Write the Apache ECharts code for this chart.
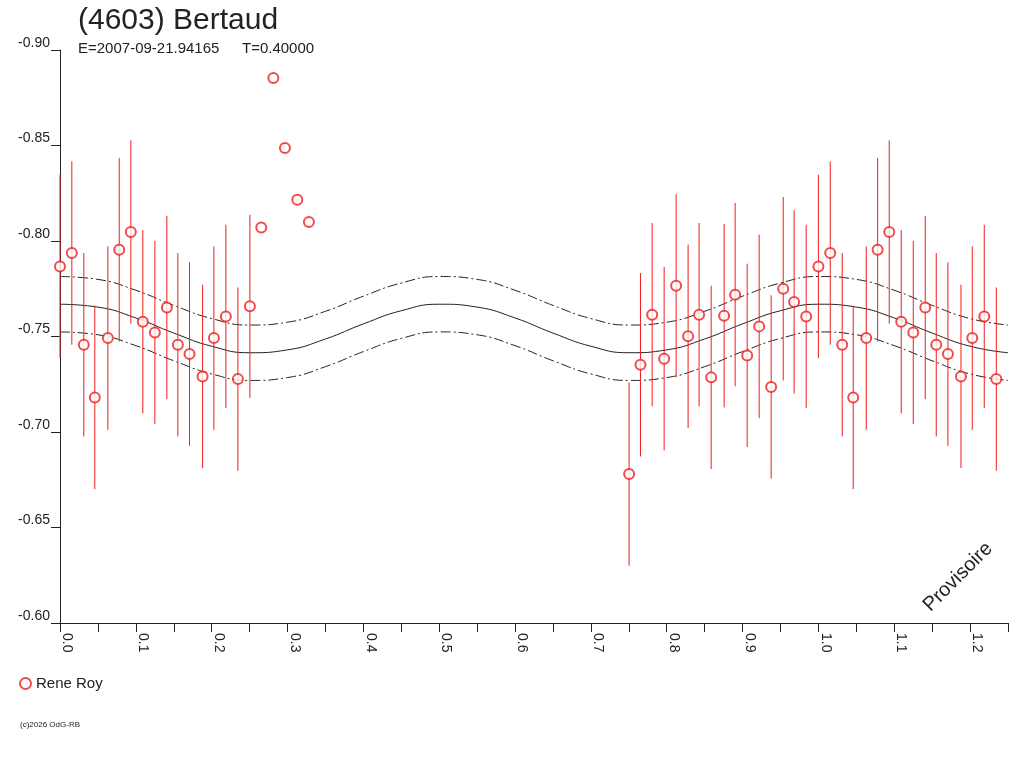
<!DOCTYPE html>
<html>
<head>
<meta charset="utf-8">
<script src="https://cdn.jsdelivr.net/npm/echarts@6/dist/echarts.min.js"></script>
<style>
html,body{margin:0;padding:0;background:#fff;}
#chart{width:1024px;height:768px;}
</style>
</head>
<body>
<div id="chart"></div>
<script>
// ---- data ----
const xTickLabels = ['0.0','0.1','0.2','0.3','0.4','0.5','0.6','0.7','0.8','0.9','1.0','1.1','1.2'];
const yTickLabels = ['-0.90','-0.85','-0.80','-0.75','-0.70','-0.65','-0.60'];

// measured points, phase 0 .. 0.33
const phaseA = [0.0000,0.0156,0.0314,0.0459,0.0631,0.0781,0.0934,0.1092,0.1251,0.1409,0.1554,0.1708,0.1880,0.2029,0.2187,0.2346,0.2504,0.2654,0.2813,0.2966,0.3129,0.3282];
const magA   = [-0.7867,-0.7937,-0.7457,-0.7181,-0.7492,-0.7954,-0.8047,-0.7577,-0.7521,-0.7652,-0.7457,-0.7408,-0.7291,-0.7492,-0.7605,-0.7277,-0.7658,-0.8071,-0.8853,-0.8487,-0.8216,-0.8099];
const errA   = [0.048,0.048,0.048,0.048,0.048,0.048,0.048,0.048,0.048,0.048,0.048,0.048,0.048,0.048,0.048,0.048,0.048,0,0,0,0,0];

// measured points, phase 0.75 .. 0.99
const phaseB = [0.7504,0.7654,0.7808,0.7966,0.8124,0.8282,0.8427,0.8586,0.8757,0.8902,0.9061,0.9219,0.9377,0.9536,0.9680,0.9839];
const magB   = [-0.6780,-0.7352,-0.7614,-0.7384,-0.7766,-0.7501,-0.7614,-0.7286,-0.7609,-0.7719,-0.7401,-0.7553,-0.7236,-0.7750,-0.7681,-0.7605];
const errB   = [0.048,0.048,0.048,0.048,0.048,0.048,0.048,0.048,0.048,0.048,0.048,0.048,0.048,0.048,0.048,0.048];

// fitted curve and its band, read every 0.05 in phase
const curvePhase = [0,0.05,0.10,0.15,0.20,0.25,0.30,0.35,0.40,0.45,0.50,0.55,0.60,0.65,0.70,0.75,0.80,0.85,0.90,0.95,1.00,1.05,1.10,1.15,1.20,1.25];
const curveMid   = [-0.7669,-0.7654,-0.7597,-0.7518,-0.7449,-0.7415,-0.7430,-0.7487,-0.7566,-0.7635,-0.7669,-0.7654,-0.7597,-0.7518,-0.7449,-0.7415,-0.7430,-0.7487,-0.7566,-0.7635,-0.7669,-0.7654,-0.7597,-0.7518,-0.7449,-0.7415];
const curveUp    = [-0.7814,-0.7799,-0.7742,-0.7663,-0.7594,-0.7560,-0.7575,-0.7632,-0.7711,-0.7780,-0.7814,-0.7799,-0.7742,-0.7663,-0.7594,-0.7560,-0.7575,-0.7632,-0.7711,-0.7780,-0.7814,-0.7799,-0.7742,-0.7663,-0.7594,-0.7560];
const curveLow   = [-0.7524,-0.7509,-0.7452,-0.7373,-0.7304,-0.7270,-0.7285,-0.7342,-0.7421,-0.7490,-0.7524,-0.7509,-0.7452,-0.7373,-0.7304,-0.7270,-0.7285,-0.7342,-0.7421,-0.7490,-0.7524,-0.7509,-0.7452,-0.7373,-0.7304,-0.7270];

// ---- build ----
const RED = '#f01e1e';
const INK = '#222222';
const pts = [];
phaseA.forEach((p,i)=>pts.push([p, magA[i], errA[i]]));
phaseB.forEach((p,i)=>pts.push([p, magB[i], errB[i]]));
phaseA.forEach((p,i)=>{ if (p + 1 < 1.25) pts.push([p + 1, magA[i], errA[i]]); });

const zip = (a,b)=>a.map((v,i)=>[v,b[i]]);

const chart = echarts.init(document.getElementById('chart'), null, {renderer:'canvas'});
const FONT = 'Liberation Sans, Arial, sans-serif';

chart.setOption({
  animation:false,
  backgroundColor:'#fff',
  textStyle:{fontFamily:FONT},
  grid:{left:60, top:50, width:948, height:573, containLabel:false},
  xAxis:{
    type:'value', min:0, max:1.25, interval:0.05,
    axisLine:{onZero:false, lineStyle:{color:INK,width:1}},
    axisTick:{show:true, length:9, lineStyle:{color:INK}},
    splitLine:{show:false},
    axisLabel:{
      rotate:-90, margin:10, fontSize:14, color:INK, fontFamily:FONT,
      align:'left', verticalAlign:'bottom',
      formatter:(v)=>{ const k=Math.round(v*10); return Math.abs(v*10-k)<1e-6 && xTickLabels[k] ? xTickLabels[k] : ''; }
    }
  },
  yAxis:{
    type:'value', min:-0.9, max:-0.6, interval:0.05, inverse:true,
    axisLine:{show:true, lineStyle:{color:INK,width:1}},
    axisTick:{show:true, length:9, lineStyle:{color:INK}},
    splitLine:{show:false},
    axisLabel:{
      margin:10, fontSize:14, color:INK, fontFamily:FONT, verticalAlign:'bottom',
      formatter:(v)=>{ const k=Math.round((v+0.9)/0.05); return yTickLabels[k] || ''; }
    }
  },
  legend:{
    data:[{name:'Rene Roy', icon:'emptyCircle'}],
    left:19, top:676, padding:0, itemWidth:11, itemHeight:11, itemGap:5,
    textStyle:{fontSize:15, color:INK, fontFamily:FONT}
  },
  series:[
    {type:'line', name:'fitUp', data:zip(curvePhase,curveUp), smooth:true, symbol:'none',
     lineStyle:{color:INK, width:1, type:[10,3,2,3]}, z:2, silent:true},
    {type:'line', name:'fit', data:zip(curvePhase,curveMid), smooth:true, symbol:'none',
     lineStyle:{color:INK, width:1}, z:2, silent:true},
    {type:'line', name:'fitLow', data:zip(curvePhase,curveLow), smooth:true, symbol:'none',
     lineStyle:{color:INK, width:1, type:[10,3,2,3]}, z:2, silent:true},
    {type:'custom', name:'err', data:pts, z:3, silent:true,
     renderItem:(params, api)=>{
       const x=api.value(0), y=api.value(1), e=api.value(2);
       if(!e) return null;
       const a=api.coord([x,y-e]), b=api.coord([x,y+e]);
       return {type:'line', shape:{x1:a[0],y1:a[1],x2:b[0],y2:b[1]}, style:{stroke:RED, lineWidth:1}};
     }},
    {type:'scatter', name:'Rene Roy', data:pts.map(p=>[p[0],p[1]]), symbol:'emptyCircle', symbolSize:10,
     itemStyle:{color:RED, borderColor:RED, borderWidth:1}, z:4}
  ],
  graphic:[
    {type:'text', left:78, top:6, style:{text:'(4603) Bertaud', font:'30px '+FONT, fill:INK}},
    {type:'text', left:78, top:41, style:{text:'E=2007-09-21.94165', font:'15px '+FONT, fill:INK}},
    {type:'text', left:242, top:41, style:{text:'T=0.40000', font:'15px '+FONT, fill:INK}},
    {type:'text', x:958, y:577, rotation:Math.PI/4,
     style:{text:'Provisoire', font:'20px '+FONT, fill:INK, textAlign:'center', textVerticalAlign:'middle'}},
    {type:'text', left:20, top:721, style:{text:'(c)2026 OdG-RB', font:'8px '+FONT, fill:INK}}
  ]
});
</script>
</body>
</html>
